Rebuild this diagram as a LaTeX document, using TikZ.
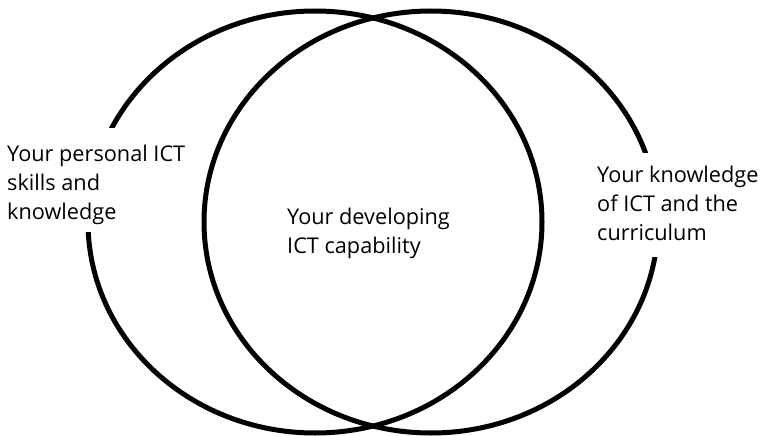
\documentclass[tikz,border=0pt]{standalone}
\usepackage{fontspec}
\setmainfont{Open Sans}
\begin{document}
\begin{tikzpicture}[x=1pt,y=-1pt,
  ring/.style={draw=black,line width=5pt},
  label/.style={anchor=base west,inner sep=0pt,align=left,
    font=\fontsize{21.7}{29}\selectfont},
  knockout/.style={fill=white,draw=none}]
\useasboundingbox (0,0) rectangle (769,436);
% the two overlapping rings
\draw[ring] (315,222) ellipse [x radius=227,y radius=211];
\draw[ring] (431,222) ellipse [x radius=227,y radius=211];
% white panels that open the rings behind the side labels
\fill[knockout] (0,128) rectangle (196,232);
\fill[knockout] (590,153) rectangle (769,257);
% labels (anchored at the baseline of their last line)
\node[label] (personal) at (7,219) {Your personal ICT\\skills and\\knowledge};
\node[label] (centre) at (287,253) {Your developing\\ICT capability};
\node[label] (curriculum) at (597,240) {Your knowledge\\of ICT and the\\curriculum};
\end{tikzpicture}
\end{document}
